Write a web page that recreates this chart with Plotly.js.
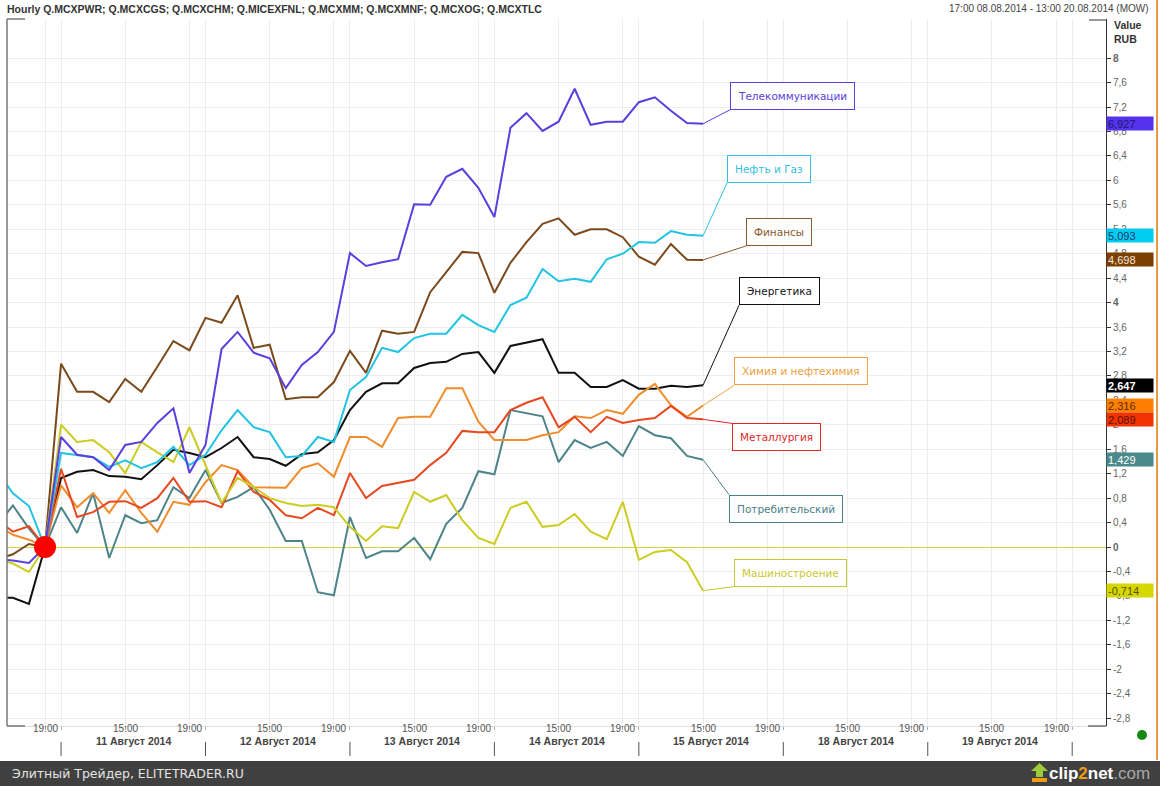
<!DOCTYPE html>
<html><head><meta charset="utf-8">
<script src="https://cdn.plot.ly/plotly-3.0.1.min.js"></script>
<style>html,body{margin:0;padding:0;background:#fff;}#chart{width:1160px;height:786px;}</style>
</head><body><div id="chart"></div>
<script>
// ---------- DATA ----------
// hourly bar index: 0 = base bar (08.08.2014 19:00), first value is bar -3
const firstIndex = -3;
const dayHours = [11,12,13,14,15,16,17,18,19];
const labeledHours = [15,19];
const baseLabel = '19:00';
const dayLabels = ['11 Август 2014','12 Август 2014','13 Август 2014','14 Август 2014','15 Август 2014','18 Август 2014','19 Август 2014'];

const tickers = ['Q.MCXPWR','Q.MCXCGS','Q.MCXCHM','Q.MICEXFNL','Q.MCXMM','Q.MCXMNF','Q.MCXOG','Q.MCXTLC'];
const names = ['Энергетика','Потребительский','Химия и нефтехимия','Финансы','Металлургия','Машиностроение','Нефть и Газ','Телекоммуникации'];

const pwr = [-0.83,-0.83,-0.93,0,1.13,1.23,1.26,1.16,1.15,1.11,1.34,1.59,1.54,1.47,1.62,1.80,1.47,1.44,1.33,1.52,1.55,1.75,2.24,2.54,2.68,2.68,2.93,3.01,3.03,3.16,3.19,2.85,3.29,3.34,3.40,2.85,2.85,2.62,2.62,2.73,2.59,2.59,2.64,2.62,2.647];
const cgs = [0.35,0.68,0.30,0,0.65,0.23,0.88,-0.18,0.52,0.39,0.44,0.98,0.80,1.26,0.72,0.82,0.98,0.61,0.10,0.10,-0.74,-0.79,0.49,-0.18,-0.07,-0.07,0.15,-0.20,0.38,0.64,1.24,1.19,2.24,2.19,2.14,1.39,1.75,1.62,1.72,1.49,1.98,1.83,1.78,1.49,1.429];
const chm = [0.35,0.20,0.12,0,1.01,0.65,0.88,0.56,0.93,0.56,0.25,0.74,0.69,1.06,1.34,1.26,0.98,0.97,0.97,1.29,1.37,1.15,1.80,1.80,1.64,2.11,2.13,2.13,2.60,2.60,2.05,1.75,1.75,1.75,1.83,1.88,2.14,2.11,2.24,2.18,2.49,2.67,2.32,2.13,2.316];
const fnl = [-0.20,-0.12,0.05,0,3.00,2.54,2.54,2.37,2.75,2.54,2.95,3.37,3.22,3.75,3.67,4.12,3.26,3.31,2.42,2.45,2.45,2.70,3.21,2.85,3.54,3.49,3.52,4.17,4.50,4.83,4.81,4.16,4.65,4.99,5.29,5.38,5.11,5.20,5.20,5.07,4.75,4.62,4.96,4.70,4.698];
const mm  = [0.45,0.25,0.34,0,1.28,0.49,0.57,0.74,0.75,0.64,0.80,1.13,0.74,0.75,0.65,1.24,0.90,0.77,0.52,0.47,0.64,0.52,1.21,0.80,1.00,1.05,1.10,1.34,1.54,1.90,1.88,1.88,2.24,2.36,2.45,1.96,2.13,1.88,2.13,2.03,2.08,2.11,2.31,2.11,2.089];
const mnf = [-0.20,-0.27,-0.41,0,2.00,1.72,1.75,1.55,1.21,1.72,1.55,1.39,1.96,1.34,0.72,1.13,0.98,0.80,0.72,0.67,0.69,0.65,0.33,0.10,0.34,0.31,0.90,0.74,0.85,0.44,0.15,0.05,0.64,0.74,0.33,0.36,0.54,0.25,0.13,0.74,-0.21,-0.08,-0.05,-0.25,-0.714];
const og  = [1.25,0.88,0.67,0,1.54,1.51,1.47,1.31,1.42,1.29,1.39,1.64,1.34,1.51,1.91,2.24,1.96,1.88,1.47,1.49,1.80,1.72,2.57,2.78,3.26,3.19,3.42,3.49,3.49,3.80,3.63,3.52,3.96,4.08,4.55,4.35,4.39,4.34,4.71,4.80,4.99,4.98,5.17,5.11,5.093];
const tlc = [-0.20,-0.22,-0.26,0,1.80,1.51,1.47,1.26,1.67,1.72,2.03,2.27,1.21,1.67,3.24,3.52,3.18,3.09,2.60,2.98,3.19,3.52,4.81,4.60,4.66,4.71,5.61,5.60,6.06,6.19,5.88,5.40,6.86,7.10,6.81,6.96,7.50,6.91,6.96,6.96,7.28,7.36,7.14,6.94,6.927];

const seriesValues = [pwr,cgs,chm,fnl,mm,mnf,og,tlc];

// ---------- STYLE ----------
const lineColors = ['#111111','#4d8489','#f08c2c','#7b4a1c','#e84820','#cccc22','#22c4e4','#5a3ee0'];
const labelColors = ['#111111','#4a8088','#f0a040','#8a5a2a','#e02828','#c8c830','#30c0e0','#5a3ee0'];
const boxColors = ['#000000','#4a8a8a','#ff8000','#7b3f00','#f03300','#d6d600','#00ccf0','#5533ee'];
const boxText = ['#ffffff','#ffffff','#5a2a00','#f5e6d6','#5a1000','#555500','#1a3a6a','#1a1a6a'];
// label box offsets (px) from last point, and anchor
const labelOffsets = [[36,-80,'bottom'],[26,35,'top'],[31,-20,'bottom'],[43,-14,'bottom'],[29,4,'top'],[31,-4,'bottom'],[24,-53,'bottom'],[27,-14,'bottom']];

const W=1160, H=786, L=7, R=1106, T=19, B=726;
const px = p => (p - L)/(R - L);
const py = p => (B - p)/(B - T);
const pxPerBar = 16.05, pxPerUnit = 61.1, baseX = 45, baseY = 547;
const xr = [(L-baseX)/pxPerBar, (R-baseX)/pxPerBar];
const yr = [(baseY-B)/pxPerUnit, (baseY-T)/pxPerUnit];
const FONT = 'DejaVu Sans, Verdana, sans-serif';
const AFONT = 'Liberation Sans, Arial, sans-serif';

const traces = seriesValues.map((vals,s)=>({
  type:'scatter', mode:'lines', name:names[s],
  x: vals.map((_,k)=>firstIndex+k), y: vals,
  line:{color:lineColors[s], width:2}, hoverinfo:'skip', showlegend:false
}));
const baseK = -firstIndex;
traces.push({type:'scatter', mode:'markers', x:[firstIndex+baseK], y:[seriesValues[0][baseK]],
  marker:{color:'#ff0000', size:22}, hoverinfo:'skip', showlegend:false});

// x positions
const dayStarts = dayLabels.map((_,d)=>1 + d*dayHours.length);
const gridVals = [0];
dayStarts.forEach(s=>{ gridVals.push(s); labeledHours.forEach(h=>gridVals.push(s+dayHours.indexOf(h))); });
gridVals.push(1 + dayLabels.length*dayHours.length);

const annotations = [];
const shapes = [];
// time labels
annotations.push({xref:'x', yref:'paper', x:0, y:py(736), text:baseLabel, showarrow:false, font:{family:AFONT,size:10,color:'#555'}});
dayStarts.forEach((s,d)=>{
  labeledHours.forEach(h=>annotations.push({xref:'x', yref:'paper', x:s+dayHours.indexOf(h), y:py(736), text:h+':00', showarrow:false, font:{family:AFONT,size:10,color:'#555'}}));
  annotations.push({xref:'x', yref:'paper', x:s+(dayHours.length)/2, y:py(749), text:'<b>'+dayLabels[d]+'</b>', showarrow:false, font:{family:AFONT,size:10.5,color:'#444'}});
});
[...dayStarts, 1+dayLabels.length*dayHours.length].forEach(s=>shapes.push({type:'line', xref:'x', yref:'paper', x0:s, x1:s, y0:py(742), y1:py(756), line:{color:'#555',width:1}}));

// y ticks
const yTicks = [];
for(let k=-7;k<=20;k++) yTicks.push(Math.round(k*4)/10);
const fmtTick = v => { const t = Number.isInteger(v) ? String(v) : v.toFixed(1).replace('.',','); return (v%4===0) ? '<b>'+t+'</b>' : t; };

// series label boxes
seriesValues.forEach((vals,s)=>{
  const lastI = firstIndex + vals.length - 1, lastV = vals[vals.length-1];
  const o = labelOffsets[s];
  annotations.push({xref:'x', yref:'y', x:lastI, y:lastV, ax:o[0], ay:o[1], axref:'pixel', ayref:'pixel',
    xanchor:'left', yanchor:o[2], text:names[s], showarrow:true, arrowhead:0, arrowwidth:1, arrowcolor:labelColors[s],
    bordercolor:labelColors[s], borderwidth:1, borderpad:7, bgcolor:'#ffffff', font:{family:FONT,size:10.5,color:labelColors[s]}});
  annotations.push({xref:'paper', yref:'y', x:px(1106), y:lastV, xanchor:'left', yanchor:'middle', showarrow:false,
    text: (s===0?'<b>':'') + lastV.toFixed(3).replace('.',',') + (s===0?'</b>':''), align:'left', width:44, height:11, borderpad:1,
    bgcolor:boxColors[s], font:{family:AFONT,size:11,color:boxText[s]}});
});

// header and footer
annotations.push({xref:'paper', yref:'paper', x:px(5), y:py(9), xanchor:'left', yanchor:'middle', showarrow:false,
  text:'<b>Hourly '+tickers.join('; ')+'</b>', font:{family:AFONT,size:10.5,color:'#333'}});
annotations.push({xref:'paper', yref:'paper', x:px(1151), y:py(9), xanchor:'right', yanchor:'middle', showarrow:false,
  text:'17:00 08.08.2014 - 13:00 20.08.2014 (MOW)', font:{family:AFONT,size:10,color:'#444'}});
annotations.push({xref:'paper', yref:'paper', x:px(1112), y:py(25), xanchor:'left', yanchor:'middle', showarrow:false,
  text:'<b>Value</b>', font:{family:AFONT,size:10.5,color:'#333'}});
annotations.push({xref:'paper', yref:'paper', x:px(1112), y:py(39), xanchor:'left', yanchor:'middle', showarrow:false,
  text:'<b>RUB</b>', font:{family:AFONT,size:10.5,color:'#333'}});
annotations.push({xref:'paper', yref:'paper', x:px(10), y:py(774), xanchor:'left', yanchor:'middle', showarrow:false,
  text:'Элитный Трейдер, ELITETRADER.RU', font:{family:FONT,size:12.5,color:'#e4e4e4'}});
annotations.push({xref:'paper', yref:'paper', x:px(1152), y:py(773), xanchor:'right', yanchor:'middle', showarrow:false,
  text:"<b><span style='color:#ffffff'>clip</span><span style='color:#f39c12'>2</span><span style='color:#ffffff'>net</span></b><span style='color:#a8a8a8'>.com</span>",
  font:{family:AFONT,size:17,color:'#ffffff'}});

shapes.push({type:'rect', xref:'paper', yref:'paper', x0:px(0), x1:px(1160), y0:py(786), y1:py(761), fillcolor:'#404040', line:{width:0}, layer:'above'});
shapes.push({type:'line', xref:'paper', yref:'paper', x0:px(1157), x1:px(1157), y0:py(0), y1:py(760), line:{color:'#e59a45',width:2}});
shapes.push({type:'line', xref:'paper', yref:'paper', x0:0, x1:0, y0:0, y1:1, line:{color:'#777',width:1.5}});
shapes.push({type:'line', xref:'paper', yref:'paper', x0:0, x1:px(25), y0:1, y1:1, line:{color:'#777',width:1.5}});
shapes.push({type:'line', xref:'paper', yref:'paper', x0:0, x1:px(25), y0:0, y1:0, line:{color:'#777',width:1.5}});
shapes.push({type:'line', xref:'paper', yref:'paper', x0:px(1089), x1:1, y0:py(20), y1:py(20), line:{color:'#333',width:1}});
shapes.push({type:'line', xref:'paper', yref:'paper', x0:px(1088), x1:1, y0:0, y1:0, line:{color:'#333',width:1}});
shapes.push({type:'circle', xref:'paper', yref:'paper', x0:px(1137), x1:px(1147), y0:py(740), y1:py(730), fillcolor:'#138a13', line:{width:0}});
const arrowPts = [[1036,777],[1043,777],[1043,771],[1048,771],[1039.5,763],[1031,771],[1036,771]];
shapes.push({type:'path', xref:'paper', yref:'paper', path:'M'+arrowPts.map(p=>px(p[0])+','+py(p[1])).join(' L')+' Z', fillcolor:'#9ccc3c', line:{width:0}, layer:'above'});
shapes.push({type:'rect', xref:'paper', yref:'paper', x0:px(1032), x1:px(1047), y0:py(782), y1:py(778), fillcolor:'#f39c12', line:{width:0}, layer:'above'});

const layout = {
  width:W, height:H, margin:{l:L, r:W-R, t:T, b:H-B, pad:0},
  paper_bgcolor:'#ffffff', plot_bgcolor:'#ffffff', showlegend:false,
  font:{family:AFONT},
  xaxis:{range:xr, tickmode:'array', tickvals:gridVals, showticklabels:false, ticks:'outside', ticklen:3, tickcolor:'#aaa',
    showgrid:true, gridcolor:'#ededed', gridwidth:1, zeroline:false, showline:true, linecolor:'#dddddd', fixedrange:true},
  yaxis:{side:'right', range:yr, tickmode:'array', tickvals:yTicks, ticktext:yTicks.map(fmtTick), ticks:'outside', ticklen:4, tickcolor:'#333',
    tickfont:{family:AFONT,size:10,color:'#666'}, showline:true, linecolor:'#333', linewidth:1, showgrid:true, gridcolor:'#ededed',
    zeroline:true, zerolinecolor:'#d8cf3a', zerolinewidth:1, fixedrange:true},
  annotations:annotations, shapes:shapes
};
Plotly.newPlot('chart', traces, layout, {staticPlot:true, displayModeBar:false});
</script></body></html>
